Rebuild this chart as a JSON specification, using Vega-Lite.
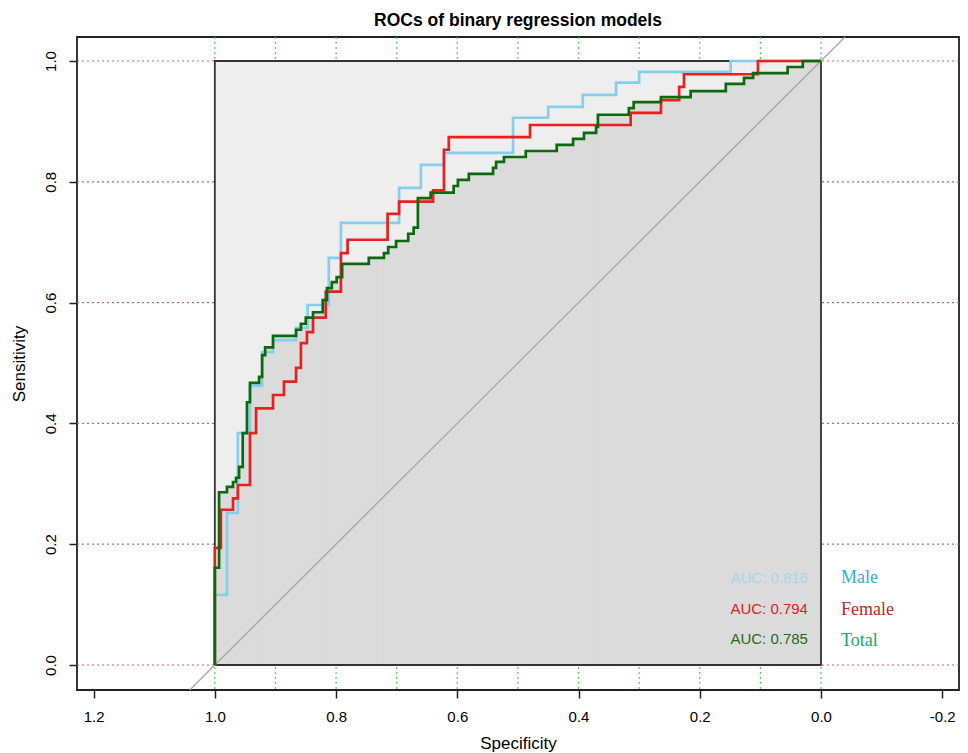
{
  "$schema": "https://vega.github.io/schema/vega-lite/v6.json",
  "autosize": {"type": "none"},
  "padding": {"left": 77, "top": 37, "right": 9, "bottom": 63},
  "width": 882,
  "height": 653,
  "background": "#ffffff",
  "config": {
    "view": {"stroke": "#222222", "strokeWidth": 1.8},
    "font": "Liberation Sans"
  },
  "title": {
    "text": "ROCs of binary regression models",
    "fontSize": 17.5,
    "fontWeight": "bold",
    "font": "Liberation Sans",
    "color": "#000000",
    "anchor": "middle",
    "frame": "group",
    "baseline": "alphabetic",
    "offset": 12,
    "dy": 19
  },
  "datasets": {
    "curves": [
      {"group": "Male", "idx": 0, "spec": 1.0, "sens": 0.0},
      {"group": "Male", "idx": 1, "spec": 1.0, "sens": 0.116},
      {"group": "Male", "idx": 2, "spec": 0.98, "sens": 0.116},
      {"group": "Male", "idx": 3, "spec": 0.98, "sens": 0.252},
      {"group": "Male", "idx": 4, "spec": 0.962, "sens": 0.252},
      {"group": "Male", "idx": 5, "spec": 0.962, "sens": 0.384},
      {"group": "Male", "idx": 6, "spec": 0.942, "sens": 0.384},
      {"group": "Male", "idx": 7, "spec": 0.942, "sens": 0.462},
      {"group": "Male", "idx": 8, "spec": 0.922, "sens": 0.462},
      {"group": "Male", "idx": 9, "spec": 0.922, "sens": 0.518},
      {"group": "Male", "idx": 10, "spec": 0.904, "sens": 0.518},
      {"group": "Male", "idx": 11, "spec": 0.904, "sens": 0.538},
      {"group": "Male", "idx": 12, "spec": 0.866, "sens": 0.538},
      {"group": "Male", "idx": 13, "spec": 0.866, "sens": 0.558},
      {"group": "Male", "idx": 14, "spec": 0.847, "sens": 0.558},
      {"group": "Male", "idx": 15, "spec": 0.847, "sens": 0.596},
      {"group": "Male", "idx": 16, "spec": 0.812, "sens": 0.596},
      {"group": "Male", "idx": 17, "spec": 0.812, "sens": 0.674},
      {"group": "Male", "idx": 18, "spec": 0.792, "sens": 0.674},
      {"group": "Male", "idx": 19, "spec": 0.792, "sens": 0.732},
      {"group": "Male", "idx": 20, "spec": 0.696, "sens": 0.732},
      {"group": "Male", "idx": 21, "spec": 0.696, "sens": 0.79},
      {"group": "Male", "idx": 22, "spec": 0.66, "sens": 0.79},
      {"group": "Male", "idx": 23, "spec": 0.66, "sens": 0.828},
      {"group": "Male", "idx": 24, "spec": 0.622, "sens": 0.828},
      {"group": "Male", "idx": 25, "spec": 0.622, "sens": 0.848},
      {"group": "Male", "idx": 26, "spec": 0.508, "sens": 0.848},
      {"group": "Male", "idx": 27, "spec": 0.508, "sens": 0.906},
      {"group": "Male", "idx": 28, "spec": 0.45, "sens": 0.906},
      {"group": "Male", "idx": 29, "spec": 0.45, "sens": 0.924},
      {"group": "Male", "idx": 30, "spec": 0.393, "sens": 0.924},
      {"group": "Male", "idx": 31, "spec": 0.393, "sens": 0.944},
      {"group": "Male", "idx": 32, "spec": 0.338, "sens": 0.944},
      {"group": "Male", "idx": 33, "spec": 0.338, "sens": 0.964},
      {"group": "Male", "idx": 34, "spec": 0.3, "sens": 0.964},
      {"group": "Male", "idx": 35, "spec": 0.3, "sens": 0.982},
      {"group": "Male", "idx": 36, "spec": 0.149, "sens": 0.982},
      {"group": "Male", "idx": 37, "spec": 0.149, "sens": 1.0},
      {"group": "Male", "idx": 38, "spec": 0.0, "sens": 1.0},
      {"group": "Female", "idx": 0, "spec": 1.0, "sens": 0.0},
      {"group": "Female", "idx": 1, "spec": 1.0, "sens": 0.194},
      {"group": "Female", "idx": 2, "spec": 0.99, "sens": 0.194},
      {"group": "Female", "idx": 3, "spec": 0.99, "sens": 0.257},
      {"group": "Female", "idx": 4, "spec": 0.97, "sens": 0.257},
      {"group": "Female", "idx": 5, "spec": 0.97, "sens": 0.276},
      {"group": "Female", "idx": 6, "spec": 0.962, "sens": 0.276},
      {"group": "Female", "idx": 7, "spec": 0.962, "sens": 0.298},
      {"group": "Female", "idx": 8, "spec": 0.942, "sens": 0.298},
      {"group": "Female", "idx": 9, "spec": 0.942, "sens": 0.384},
      {"group": "Female", "idx": 10, "spec": 0.932, "sens": 0.384},
      {"group": "Female", "idx": 11, "spec": 0.932, "sens": 0.425},
      {"group": "Female", "idx": 12, "spec": 0.904, "sens": 0.425},
      {"group": "Female", "idx": 13, "spec": 0.904, "sens": 0.447},
      {"group": "Female", "idx": 14, "spec": 0.886, "sens": 0.447},
      {"group": "Female", "idx": 15, "spec": 0.886, "sens": 0.469},
      {"group": "Female", "idx": 16, "spec": 0.866, "sens": 0.469},
      {"group": "Female", "idx": 17, "spec": 0.866, "sens": 0.492},
      {"group": "Female", "idx": 18, "spec": 0.858, "sens": 0.492},
      {"group": "Female", "idx": 19, "spec": 0.858, "sens": 0.533},
      {"group": "Female", "idx": 20, "spec": 0.848, "sens": 0.533},
      {"group": "Female", "idx": 21, "spec": 0.848, "sens": 0.551},
      {"group": "Female", "idx": 22, "spec": 0.838, "sens": 0.551},
      {"group": "Female", "idx": 23, "spec": 0.838, "sens": 0.575},
      {"group": "Female", "idx": 24, "spec": 0.817, "sens": 0.575},
      {"group": "Female", "idx": 25, "spec": 0.817, "sens": 0.618},
      {"group": "Female", "idx": 26, "spec": 0.792, "sens": 0.618},
      {"group": "Female", "idx": 27, "spec": 0.792, "sens": 0.682},
      {"group": "Female", "idx": 28, "spec": 0.781, "sens": 0.682},
      {"group": "Female", "idx": 29, "spec": 0.781, "sens": 0.704},
      {"group": "Female", "idx": 30, "spec": 0.715, "sens": 0.704},
      {"group": "Female", "idx": 31, "spec": 0.715, "sens": 0.747},
      {"group": "Female", "idx": 32, "spec": 0.696, "sens": 0.747},
      {"group": "Female", "idx": 33, "spec": 0.696, "sens": 0.767},
      {"group": "Female", "idx": 34, "spec": 0.64, "sens": 0.767},
      {"group": "Female", "idx": 35, "spec": 0.64, "sens": 0.786},
      {"group": "Female", "idx": 36, "spec": 0.622, "sens": 0.786},
      {"group": "Female", "idx": 37, "spec": 0.622, "sens": 0.853},
      {"group": "Female", "idx": 38, "spec": 0.614, "sens": 0.853},
      {"group": "Female", "idx": 39, "spec": 0.614, "sens": 0.874},
      {"group": "Female", "idx": 40, "spec": 0.48, "sens": 0.874},
      {"group": "Female", "idx": 41, "spec": 0.48, "sens": 0.894},
      {"group": "Female", "idx": 42, "spec": 0.314, "sens": 0.894},
      {"group": "Female", "idx": 43, "spec": 0.314, "sens": 0.914},
      {"group": "Female", "idx": 44, "spec": 0.264, "sens": 0.914},
      {"group": "Female", "idx": 45, "spec": 0.264, "sens": 0.935},
      {"group": "Female", "idx": 46, "spec": 0.234, "sens": 0.935},
      {"group": "Female", "idx": 47, "spec": 0.234, "sens": 0.957},
      {"group": "Female", "idx": 48, "spec": 0.226, "sens": 0.957},
      {"group": "Female", "idx": 49, "spec": 0.226, "sens": 0.978},
      {"group": "Female", "idx": 50, "spec": 0.104, "sens": 0.978},
      {"group": "Female", "idx": 51, "spec": 0.104, "sens": 1.0},
      {"group": "Female", "idx": 52, "spec": 0.0, "sens": 1.0},
      {"group": "Total", "idx": 0, "spec": 1.0, "sens": 0.0},
      {"group": "Total", "idx": 1, "spec": 1.0, "sens": 0.161},
      {"group": "Total", "idx": 2, "spec": 0.993, "sens": 0.161},
      {"group": "Total", "idx": 3, "spec": 0.993, "sens": 0.286},
      {"group": "Total", "idx": 4, "spec": 0.98, "sens": 0.286},
      {"group": "Total", "idx": 5, "spec": 0.98, "sens": 0.295},
      {"group": "Total", "idx": 6, "spec": 0.97, "sens": 0.295},
      {"group": "Total", "idx": 7, "spec": 0.97, "sens": 0.303},
      {"group": "Total", "idx": 8, "spec": 0.965, "sens": 0.303},
      {"group": "Total", "idx": 9, "spec": 0.965, "sens": 0.31},
      {"group": "Total", "idx": 10, "spec": 0.96, "sens": 0.31},
      {"group": "Total", "idx": 11, "spec": 0.96, "sens": 0.328},
      {"group": "Total", "idx": 12, "spec": 0.954, "sens": 0.328},
      {"group": "Total", "idx": 13, "spec": 0.954, "sens": 0.384},
      {"group": "Total", "idx": 14, "spec": 0.947, "sens": 0.384},
      {"group": "Total", "idx": 15, "spec": 0.947, "sens": 0.435},
      {"group": "Total", "idx": 16, "spec": 0.942, "sens": 0.435},
      {"group": "Total", "idx": 17, "spec": 0.942, "sens": 0.467},
      {"group": "Total", "idx": 18, "spec": 0.927, "sens": 0.467},
      {"group": "Total", "idx": 19, "spec": 0.927, "sens": 0.477},
      {"group": "Total", "idx": 20, "spec": 0.922, "sens": 0.477},
      {"group": "Total", "idx": 21, "spec": 0.922, "sens": 0.513},
      {"group": "Total", "idx": 22, "spec": 0.917, "sens": 0.513},
      {"group": "Total", "idx": 23, "spec": 0.917, "sens": 0.526},
      {"group": "Total", "idx": 24, "spec": 0.904, "sens": 0.526},
      {"group": "Total", "idx": 25, "spec": 0.904, "sens": 0.545},
      {"group": "Total", "idx": 26, "spec": 0.866, "sens": 0.545},
      {"group": "Total", "idx": 27, "spec": 0.866, "sens": 0.555},
      {"group": "Total", "idx": 28, "spec": 0.858, "sens": 0.555},
      {"group": "Total", "idx": 29, "spec": 0.858, "sens": 0.565},
      {"group": "Total", "idx": 30, "spec": 0.85, "sens": 0.565},
      {"group": "Total", "idx": 31, "spec": 0.85, "sens": 0.575},
      {"group": "Total", "idx": 32, "spec": 0.838, "sens": 0.575},
      {"group": "Total", "idx": 33, "spec": 0.838, "sens": 0.584},
      {"group": "Total", "idx": 34, "spec": 0.822, "sens": 0.584},
      {"group": "Total", "idx": 35, "spec": 0.822, "sens": 0.604},
      {"group": "Total", "idx": 36, "spec": 0.815, "sens": 0.604},
      {"group": "Total", "idx": 37, "spec": 0.815, "sens": 0.624},
      {"group": "Total", "idx": 38, "spec": 0.807, "sens": 0.624},
      {"group": "Total", "idx": 39, "spec": 0.807, "sens": 0.634},
      {"group": "Total", "idx": 40, "spec": 0.799, "sens": 0.634},
      {"group": "Total", "idx": 41, "spec": 0.799, "sens": 0.642},
      {"group": "Total", "idx": 42, "spec": 0.79, "sens": 0.642},
      {"group": "Total", "idx": 43, "spec": 0.79, "sens": 0.664},
      {"group": "Total", "idx": 44, "spec": 0.746, "sens": 0.664},
      {"group": "Total", "idx": 45, "spec": 0.746, "sens": 0.674},
      {"group": "Total", "idx": 46, "spec": 0.721, "sens": 0.674},
      {"group": "Total", "idx": 47, "spec": 0.721, "sens": 0.682},
      {"group": "Total", "idx": 48, "spec": 0.714, "sens": 0.682},
      {"group": "Total", "idx": 49, "spec": 0.714, "sens": 0.692},
      {"group": "Total", "idx": 50, "spec": 0.701, "sens": 0.692},
      {"group": "Total", "idx": 51, "spec": 0.701, "sens": 0.702},
      {"group": "Total", "idx": 52, "spec": 0.681, "sens": 0.702},
      {"group": "Total", "idx": 53, "spec": 0.681, "sens": 0.714},
      {"group": "Total", "idx": 54, "spec": 0.672, "sens": 0.714},
      {"group": "Total", "idx": 55, "spec": 0.672, "sens": 0.724},
      {"group": "Total", "idx": 56, "spec": 0.665, "sens": 0.724},
      {"group": "Total", "idx": 57, "spec": 0.665, "sens": 0.773},
      {"group": "Total", "idx": 58, "spec": 0.644, "sens": 0.773},
      {"group": "Total", "idx": 59, "spec": 0.644, "sens": 0.782},
      {"group": "Total", "idx": 60, "spec": 0.606, "sens": 0.782},
      {"group": "Total", "idx": 61, "spec": 0.606, "sens": 0.793},
      {"group": "Total", "idx": 62, "spec": 0.599, "sens": 0.793},
      {"group": "Total", "idx": 63, "spec": 0.599, "sens": 0.803},
      {"group": "Total", "idx": 64, "spec": 0.581, "sens": 0.803},
      {"group": "Total", "idx": 65, "spec": 0.581, "sens": 0.813},
      {"group": "Total", "idx": 66, "spec": 0.541, "sens": 0.813},
      {"group": "Total", "idx": 67, "spec": 0.541, "sens": 0.823},
      {"group": "Total", "idx": 68, "spec": 0.536, "sens": 0.823},
      {"group": "Total", "idx": 69, "spec": 0.536, "sens": 0.833},
      {"group": "Total", "idx": 70, "spec": 0.523, "sens": 0.833},
      {"group": "Total", "idx": 71, "spec": 0.523, "sens": 0.841},
      {"group": "Total", "idx": 72, "spec": 0.487, "sens": 0.841},
      {"group": "Total", "idx": 73, "spec": 0.487, "sens": 0.851},
      {"group": "Total", "idx": 74, "spec": 0.436, "sens": 0.851},
      {"group": "Total", "idx": 75, "spec": 0.436, "sens": 0.861},
      {"group": "Total", "idx": 76, "spec": 0.409, "sens": 0.861},
      {"group": "Total", "idx": 77, "spec": 0.409, "sens": 0.871},
      {"group": "Total", "idx": 78, "spec": 0.391, "sens": 0.871},
      {"group": "Total", "idx": 79, "spec": 0.391, "sens": 0.881},
      {"group": "Total", "idx": 80, "spec": 0.371, "sens": 0.881},
      {"group": "Total", "idx": 81, "spec": 0.371, "sens": 0.891},
      {"group": "Total", "idx": 82, "spec": 0.368, "sens": 0.891},
      {"group": "Total", "idx": 83, "spec": 0.368, "sens": 0.911},
      {"group": "Total", "idx": 84, "spec": 0.317, "sens": 0.911},
      {"group": "Total", "idx": 85, "spec": 0.317, "sens": 0.922},
      {"group": "Total", "idx": 86, "spec": 0.309, "sens": 0.922},
      {"group": "Total", "idx": 87, "spec": 0.309, "sens": 0.932},
      {"group": "Total", "idx": 88, "spec": 0.264, "sens": 0.932},
      {"group": "Total", "idx": 89, "spec": 0.264, "sens": 0.94},
      {"group": "Total", "idx": 90, "spec": 0.215, "sens": 0.94},
      {"group": "Total", "idx": 91, "spec": 0.215, "sens": 0.95},
      {"group": "Total", "idx": 92, "spec": 0.157, "sens": 0.95},
      {"group": "Total", "idx": 93, "spec": 0.157, "sens": 0.962},
      {"group": "Total", "idx": 94, "spec": 0.127, "sens": 0.962},
      {"group": "Total", "idx": 95, "spec": 0.127, "sens": 0.972},
      {"group": "Total", "idx": 96, "spec": 0.112, "sens": 0.972},
      {"group": "Total", "idx": 97, "spec": 0.112, "sens": 0.98},
      {"group": "Total", "idx": 98, "spec": 0.055, "sens": 0.98},
      {"group": "Total", "idx": 99, "spec": 0.055, "sens": 0.99},
      {"group": "Total", "idx": 100, "spec": 0.03, "sens": 0.99},
      {"group": "Total", "idx": 101, "spec": 0.03, "sens": 1.0},
      {"group": "Total", "idx": 102, "spec": 0.0, "sens": 1.0}
    ],
    "totalsteps": [
      {"a": 1.0, "b": 0.993, "s": 0.161},
      {"a": 0.993, "b": 0.98, "s": 0.286},
      {"a": 0.98, "b": 0.97, "s": 0.295},
      {"a": 0.97, "b": 0.965, "s": 0.303},
      {"a": 0.965, "b": 0.96, "s": 0.31},
      {"a": 0.96, "b": 0.954, "s": 0.328},
      {"a": 0.954, "b": 0.947, "s": 0.384},
      {"a": 0.947, "b": 0.942, "s": 0.435},
      {"a": 0.942, "b": 0.927, "s": 0.467},
      {"a": 0.927, "b": 0.922, "s": 0.477},
      {"a": 0.922, "b": 0.917, "s": 0.513},
      {"a": 0.917, "b": 0.904, "s": 0.526},
      {"a": 0.904, "b": 0.866, "s": 0.545},
      {"a": 0.866, "b": 0.858, "s": 0.555},
      {"a": 0.858, "b": 0.85, "s": 0.565},
      {"a": 0.85, "b": 0.838, "s": 0.575},
      {"a": 0.838, "b": 0.822, "s": 0.584},
      {"a": 0.822, "b": 0.815, "s": 0.604},
      {"a": 0.815, "b": 0.807, "s": 0.624},
      {"a": 0.807, "b": 0.799, "s": 0.634},
      {"a": 0.799, "b": 0.79, "s": 0.642},
      {"a": 0.79, "b": 0.746, "s": 0.664},
      {"a": 0.746, "b": 0.721, "s": 0.674},
      {"a": 0.721, "b": 0.714, "s": 0.682},
      {"a": 0.714, "b": 0.701, "s": 0.692},
      {"a": 0.701, "b": 0.681, "s": 0.702},
      {"a": 0.681, "b": 0.672, "s": 0.714},
      {"a": 0.672, "b": 0.665, "s": 0.724},
      {"a": 0.665, "b": 0.644, "s": 0.773},
      {"a": 0.644, "b": 0.606, "s": 0.782},
      {"a": 0.606, "b": 0.599, "s": 0.793},
      {"a": 0.599, "b": 0.581, "s": 0.803},
      {"a": 0.581, "b": 0.541, "s": 0.813},
      {"a": 0.541, "b": 0.536, "s": 0.823},
      {"a": 0.536, "b": 0.523, "s": 0.833},
      {"a": 0.523, "b": 0.487, "s": 0.841},
      {"a": 0.487, "b": 0.436, "s": 0.851},
      {"a": 0.436, "b": 0.409, "s": 0.861},
      {"a": 0.409, "b": 0.391, "s": 0.871},
      {"a": 0.391, "b": 0.371, "s": 0.881},
      {"a": 0.371, "b": 0.368, "s": 0.891},
      {"a": 0.368, "b": 0.317, "s": 0.911},
      {"a": 0.317, "b": 0.309, "s": 0.922},
      {"a": 0.309, "b": 0.264, "s": 0.932},
      {"a": 0.264, "b": 0.215, "s": 0.94},
      {"a": 0.215, "b": 0.157, "s": 0.95},
      {"a": 0.157, "b": 0.127, "s": 0.962},
      {"a": 0.127, "b": 0.112, "s": 0.972},
      {"a": 0.112, "b": 0.055, "s": 0.98},
      {"a": 0.055, "b": 0.03, "s": 0.99},
      {"a": 0.03, "b": 0.0, "s": 1.0}
    ],
    "hgrid": [{"v": 0}, {"v": 0.2}, {"v": 0.4}, {"v": 0.6}, {"v": 0.8}, {"v": 1.0}],
    "vgrid": [{"v": 0}, {"v": 0.1}, {"v": 0.2}, {"v": 0.3}, {"v": 0.4}, {"v": 0.5}, {"v": 0.6}, {"v": 0.7}, {"v": 0.8}, {"v": 0.9}, {"v": 1.0}],
    "square": [{"x1": 1.0, "x2": 0.0, "y1": 0.0, "y2": 1.0}],
    "diag": [{"x1": 1.0414, "y1": -0.0414, "x2": -0.0397, "y2": 1.0397}],
    "auc": [
      {"label": "AUC: 0.816", "spec": 0.0215, "sens": 0.144},
      {"label": "AUC: 0.794", "spec": 0.0215, "sens": 0.093},
      {"label": "AUC: 0.785", "spec": 0.0215, "sens": 0.043}
    ],
    "names": [
      {"label": "Male", "spec": -0.033, "sens": 0.144},
      {"label": "Female", "spec": -0.033, "sens": 0.091},
      {"label": "Total", "spec": -0.033, "sens": 0.04}
    ]
  },
  "encoding": {
    "x": {
      "field": "spec", "type": "quantitative",
      "scale": {"domain": [-0.2277, 1.2274], "reverse": true, "nice": false, "zero": false},
      "axis": {
        "values": [1.2, 1.0, 0.8, 0.6, 0.4, 0.2, 0.0, -0.2],
        "format": ".1f",
        "labelExpr": "replace(datum.label, '\u2212', '-')",
        "domain": false, "grid": false,
        "tickColor": "#222222", "tickSize": 8, "tickWidth": 1.5,
        "labelFontSize": 15, "labelColor": "#000000", "labelPadding": 11,
        "title": "Specificity", "titleFontSize": 17, "titleFontWeight": "normal",
        "titleColor": "#000000", "titlePadding": 11
      }
    },
    "y": {
      "field": "sens", "type": "quantitative",
      "scale": {"domain": [-0.0414, 1.0397], "nice": false, "zero": false},
      "axis": {
        "values": [0, 0.2, 0.4, 0.6, 0.8, 1.0],
        "format": ".1f",
        "domain": false, "grid": false,
        "tickColor": "#222222", "tickSize": 8, "tickWidth": 1.5,
        "labelAngle": 270, "labelAlign": "center", "labelBaseline": "bottom",
        "labelFontSize": 15, "labelColor": "#000000", "labelPadding": 11,
        "title": "Sensitivity", "titleFontSize": 17, "titleFontWeight": "normal",
        "titleColor": "#000000", "titlePadding": 15
      }
    }
  },
  "layer": [
    {
      "data": {"name": "hgrid"},
      "mark": {"type": "rule", "color": "#cc6666", "strokeDash": [2, 3], "strokeWidth": 1.2},
      "encoding": {"y": {"field": "v", "type": "quantitative"}, "x": null}
    },
    {
      "data": {"name": "vgrid"},
      "mark": {"type": "rule", "color": "#55cc55", "strokeDash": [2, 3], "strokeWidth": 1.2},
      "encoding": {"x": {"field": "v", "type": "quantitative"}, "y": null}
    },
    {
      "data": {"name": "square"},
      "mark": {"type": "rect", "color": "#eeeeee", "opacity": 1},
      "encoding": {
        "x": {"field": "x1", "type": "quantitative"},
        "x2": {"field": "x2"},
        "y": {"field": "y1", "type": "quantitative"},
        "y2": {"field": "y2"}
      }
    },
    {
      "data": {"name": "totalsteps"},
      "mark": {"type": "rect", "fill": "#dbdbdb", "stroke": "#dbdbdb", "strokeWidth": 0.8, "opacity": 1},
      "encoding": {
        "x": {"field": "a", "type": "quantitative"},
        "x2": {"field": "b"},
        "y": {"field": "s", "type": "quantitative"},
        "y2": {"datum": 0}
      }
    },
    {
      "data": {"name": "square"},
      "mark": {"type": "rect", "filled": false, "color": "#333333", "strokeWidth": 1.8, "opacity": 1},
      "encoding": {
        "x": {"field": "x1", "type": "quantitative"},
        "x2": {"field": "x2"},
        "y": {"field": "y1", "type": "quantitative"},
        "y2": {"field": "y2"}
      }
    },
    {
      "data": {"name": "diag"},
      "mark": {"type": "rule", "color": "#a6a6a6", "strokeWidth": 1.3},
      "encoding": {
        "x": {"field": "x1", "type": "quantitative"},
        "x2": {"field": "x2"},
        "y": {"field": "y1", "type": "quantitative"},
        "y2": {"field": "y2"}
      }
    },
    {
      "data": {"name": "curves"},
      "mark": {"type": "line", "strokeWidth": 2.7, "interpolate": "linear"},
      "encoding": {
        "color": {
          "field": "group", "type": "nominal",
          "scale": {"domain": ["Total", "Male", "Female"], "range": ["#0b6a0b", "#87ceeb", "#e8201f"]},
          "legend": null
        },
        "order": {"field": "idx", "type": "quantitative"}
      }
    },
    {
      "data": {"name": "auc"},
      "mark": {"type": "text", "align": "right", "baseline": "middle", "font": "Liberation Sans", "fontSize": 15},
      "encoding": {
        "text": {"field": "label"},
        "color": {
          "field": "label", "type": "nominal",
          "scale": {"domain": ["AUC: 0.816", "AUC: 0.794", "AUC: 0.785"], "range": ["#a6d6ea", "#e0201e", "#1f6b1f"]},
          "legend": null
        }
      }
    },
    {
      "data": {"name": "names"},
      "mark": {"type": "text", "align": "left", "baseline": "middle", "font": "Liberation Serif", "fontSize": 18},
      "encoding": {
        "text": {"field": "label"},
        "color": {
          "field": "label", "type": "nominal",
          "scale": {"domain": ["Male", "Female", "Total"], "range": ["#2fb0d6", "#c4262b", "#24a36a"]},
          "legend": null
        }
      }
    }
  ],
  "resolve": {"scale": {"color": "independent"}}
}
